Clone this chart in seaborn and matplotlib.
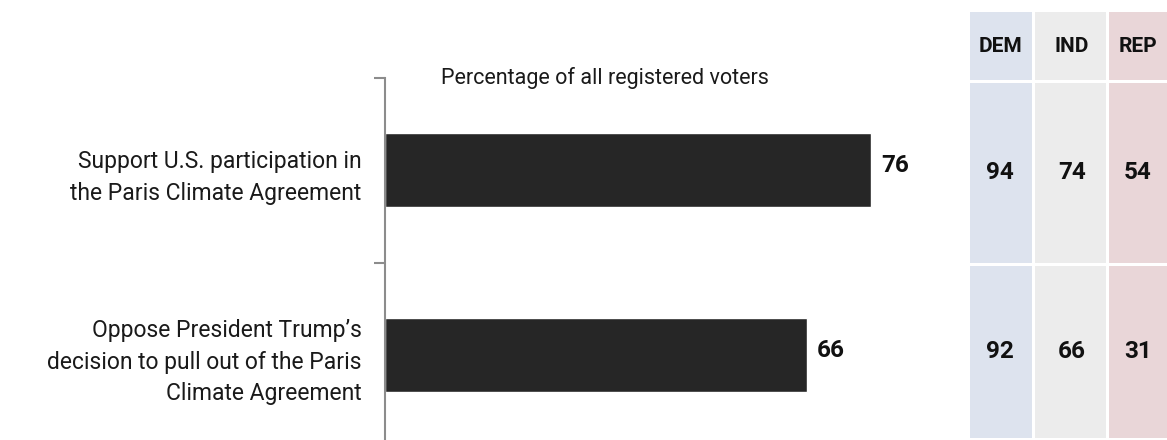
"""Paris Climate Agreement support: overall bars plus a party breakdown table."""

import matplotlib

matplotlib.use("Agg")

import matplotlib.pyplot as plt
import numpy as np
import pandas as pd
import seaborn as sns
from matplotlib.colors import ListedColormap
from matplotlib.transforms import blended_transform_factory

statements = [
    "Support U.S. participation in\nthe Paris Climate Agreement",
    "Oppose President Trump\u2019s\ndecision to pull out of the Paris\nClimate Agreement",
]
all_voters = [76, 66]
parties = ["DEM", "IND", "REP"]
dem = [94, 92]
ind = [74, 66]
rep = [54, 31]
axis_title = "Percentage of all registered voters"

BAR_COLOR = "#262626"
PARTY_COLORS = ["#dde3ee", "#ececec", "#e9d6d8"]
W, H = 1167, 440

sns.set_theme(style="white")
plt.rcParams["font.family"] = ["Roboto", "DejaVu Sans"]

fig = plt.figure(figsize=(W / 100, H / 100), dpi=100)


def px_axes(left, top, right, bottom):
    return fig.add_axes([left / W, 1 - bottom / H, (right - left) / W, (bottom - top) / H])


# --- bar chart -------------------------------------------------------------
ax = px_axes(385, 78, 1025, 448)
df = pd.DataFrame({"statement": statements, "pct": all_voters})
sns.barplot(data=df, x="pct", y="statement", orient="h", color=BAR_COLOR,
            width=0.4, saturation=1, ax=ax)
for t in ax.bar_label(ax.containers[0], fontsize=17.5, fontweight="bold",
                      padding=7, color="#111111"):
    t.xyann = (7, 3.5)  # sits a touch above the bar centre in the original
ax.set_xlim(0, 100)
ax.set_ylim(len(statements) - 0.5, -0.5)
ax.set_xlabel("")
ax.set_ylabel("")
ax.set_xticks([])
ax.tick_params(axis="y", which="major", left=False, length=0, pad=17,
               labelsize=16.5, labelcolor="#1a1a1a")
for lab in ax.get_yticklabels():
    lab.set_multialignment("right")
    lab.set_linespacing(1.48)
ax.set_yticks(np.arange(len(statements) + 1) - 0.5, minor=True)
ax.tick_params(axis="y", which="minor", left=True, length=8, width=1.5,
               color="#8c8c8c")
for side in ("top", "right", "bottom"):
    ax.spines[side].set_visible(False)
ax.spines["left"].set_color("#8c8c8c")
ax.spines["left"].set_linewidth(1.5)
ax.text(34.4, 1.0, axis_title,
        transform=blended_transform_factory(ax.transData, ax.transAxes),
        ha="center", va="center", fontsize=15.5, color="#1a1a1a")

# --- party table -----------------------------------------------------------
tab = px_axes(968, 10, 1190, 439)
col_edges = np.array([0, 65, 139, 222])
row_edges = np.array([0, 71, 254, 429])
table_vals = np.array([dem, ind, rep]).T
color_idx = np.tile(np.arange(len(parties)), (len(row_edges) - 1, 1))
tab.pcolormesh(col_edges, row_edges, color_idx, cmap=ListedColormap(PARTY_COLORS),
               edgecolor="white", linewidth=2)
tab.set_xlim(0, 222)
tab.set_ylim(429, 0)
tab.axis("off")
col_mid = [32, 104, 170]
for j, name in enumerate(parties):
    tab.text(col_mid[j], 36, name, ha="center", va="center", fontsize=15,
             fontweight="bold", color="#111111")
    for i in range(len(statements)):
        y = (row_edges[i + 1] + row_edges[i + 2]) / 2
        tab.text(col_mid[j], y, str(table_vals[i, j]), ha="center", va="center",
                 fontsize=17.5, fontweight="bold", color="#111111")

fig.savefig("out.png", dpi=100)
